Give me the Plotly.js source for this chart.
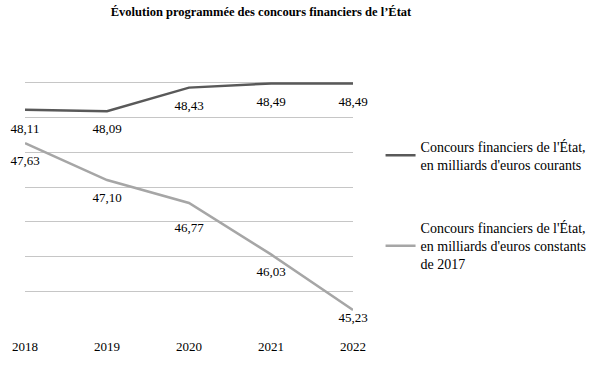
<!DOCTYPE html>
<html>
<head>
<meta charset="utf-8">
<script src="https://cdn.plot.ly/plotly-3.0.1.min.js"></script>
<style>html,body{margin:0;padding:0;background:#fff;}#chart{width:600px;height:373px;}</style>
</head>
<body>
<div id="chart"></div>
<script>
var years = ['2018', '2019', '2020', '2021', '2022'];
var courants = [48.11, 48.09, 48.43, 48.49, 48.49];
var constants = [47.63, 47.10, 46.77, 46.03, 45.23];
var seriesNames = [
  "Concours financiers de l'État,<br>en milliards d'euros courants",
  "Concours financiers de l'État,<br>en milliards d'euros constants<br>de 2017"
];
var titleText = "Évolution programmée des concours financiers de l’État";

var FONT = "'Liberation Serif', 'DejaVu Serif', serif";

var traces = [
  {
    x: years, y: courants, name: seriesNames[0], legendgroup: 'a',
    type: 'scatter', mode: 'lines+markers+text',
    line: {color: '#595959', width: 2.5},
    marker: {size: [20, 18, 19, 19, 19], color: 'rgba(0,0,0,0)', line: {width: 0}},
    texttemplate: '%{y:.2f}', textposition: 'bottom center',
    textfont: {family: FONT, size: 13, color: '#000'},
    cliponaxis: false, hoverinfo: 'none'
  },
  {
    x: years, y: constants, name: seriesNames[1], legendgroup: 'b',
    type: 'scatter', mode: 'lines+markers+text',
    line: {color: '#a6a6a6', width: 2.5},
    marker: {size: [18, 18, 30, 18, 2], color: 'rgba(0,0,0,0)', line: {width: 0}},
    texttemplate: '%{y:.2f}', textposition: 'bottom center',
    textfont: {family: FONT, size: 13, color: '#000'},
    cliponaxis: false, hoverinfo: 'none'
  }
];

var layout = {
  width: 600, height: 373,
  paper_bgcolor: '#fff', plot_bgcolor: '#fff',
  separators: ', ',
  font: {family: FONT, size: 13, color: '#000'},
  margin: {l: 25, r: 247, t: 48, b: 47, autoexpand: false},
  title: {text: '<b>' + titleText + '</b>', x: 0.435, xanchor: 'center', y: 0.97, yanchor: 'middle',
          font: {family: FONT, size: 12.5, color: '#000'}},
  xaxis: {type: 'category', range: [0, 4], showgrid: false, zeroline: false, showline: false,
          ticks: '', tickfont: {family: FONT, size: 13, color: '#000'}, ticklabelstandoff: 11},
  yaxis: {range: [45, 49], dtick: 0.5, tick0: 45, showticklabels: false, showgrid: true,
          gridcolor: '#c6c6c6', gridwidth: 1, zeroline: false, showline: false, ticks: ''},
  showlegend: true,
  legend: {x: 1.084, xanchor: 'left', y: 0.703, yanchor: 'top', tracegroupgap: 42,
           font: {family: FONT, size: 14, color: '#000'}, bgcolor: 'rgba(0,0,0,0)', itemwidth: 30}
};

Plotly.newPlot('chart', traces, layout, {displayModeBar: false, staticPlot: true});
</script>
</body>
</html>
